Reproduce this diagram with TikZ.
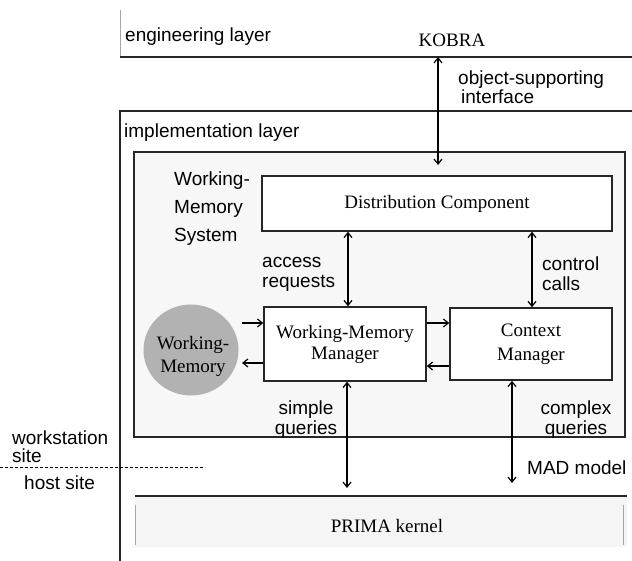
\documentclass[tikz,border=0pt]{standalone}
\usepackage{fontspec}
\setmainfont{Liberation Serif}
\setsansfont{Liberation Sans}
\usetikzlibrary{arrows.meta,shapes.geometric}

\begin{document}
\begin{tikzpicture}[x=1pt,y=-1pt,
  sf/.style={font=\sffamily\fontsize{19}{20}\selectfont, inner sep=0pt, align=left},
  rm/.style={font=\rmfamily\fontsize{19}{22}\selectfont, inner sep=0pt, align=center},
  box/.style={draw=black!85, line width=1.4pt, fill=white, rm},
  layerline/.style={draw=black!85, line width=1.5pt},
  sideline/.style={draw=black!35, line width=0.9pt},
  tip/.style={-{Straight Barb[length=5pt,width=8pt]}, line width=1.2pt},
  dbl/.style={{Straight Barb[length=5pt,width=8pt]}-{Straight Barb[length=5pt,width=8pt]}, line width=1.2pt},
]
\useasboundingbox (0,0) rectangle (632,561);

% engineering layer
\draw[sideline] (120,10) -- (120,57);
\draw[layerline] (120,57) -- (632,57);
\node[sf, anchor=west] (englab) at (125,37) {engineering layer};
\node[rm] (kobra) at (452,40) {KOBRA};
\coordinate (kobtop) at (438,57);
\coordinate (kobbot) at (438,165);
\node[sf, anchor=west, font=\sffamily\fontsize{19}{17}\selectfont] (osi) at (458,87) {object-supporting\\\hspace*{3pt}interface};

% implementation layer
\draw[layerline] (632,111) -- (120,111) -- (120,561);
\node[sf, anchor=west] (impllab) at (124,133) {implementation layer};

% working-memory system
\node[draw=black!85, line width=1.5pt, fill=black!3, minimum width=491pt, minimum height=285pt, inner sep=0pt] (wms) at (379.5,294.5) {};
\node[sf, anchor=west, font=\sffamily\fontsize{19}{28}\selectfont] (wmslab) at (174,209) {Working-\\Memory\\System};

\node[box, minimum width=350pt, minimum height=55pt] (dc) at (437,203.5) {Distribution Component};
\node[box, minimum width=162pt, minimum height=74pt, font=\rmfamily\fontsize{19}{21}\selectfont] (wmm) at (345,344) {Working-Memory\\Manager};
\node[box, minimum width=162pt, minimum height=72pt, font=\rmfamily\fontsize{19}{24}\selectfont] (cm) at (531,344) {Context\\Manager};

\node[ellipse, fill=black!30, minimum width=95pt, minimum height=91pt, inner sep=0pt] (wm) at (191,350) {};
\node[rm, font=\rmfamily\fontsize{19}{23}\selectfont] (wmlab) at (193,356) {Working-\\Memory};

% connectors
\draw[dbl] (kobtop) -- (kobbot);

\coordinate (xacc) at (348,0);
\coordinate (xctl) at (532,0);
\draw[dbl] (xacc |- dc.south) -- (xacc |- wmm.north);
\draw[dbl] (xctl |- dc.south) -- (xctl |- cm.north);

\coordinate (wmin) at (242,323);
\coordinate (wmout) at (242,363);
\draw[tip] (wmin) -- (wmin -| wmm.west);
\draw[tip] (wmout -| wmm.west) -- (wmout);

\coordinate (ytoc) at (0,323);
\coordinate (yfromc) at (0,366);
\draw[tip] (wmm.east |- ytoc) -- (cm.west |- ytoc);
\draw[tip] (cm.west |- yfromc) -- (wmm.east |- yfromc);

\coordinate (sqend) at (347,488);
\coordinate (cqend) at (512,483);
\draw[dbl] (sqend |- wmm.south) -- (sqend);
\draw[dbl] (cqend |- cm.south) -- (cqend);

% connector labels
\node[sf, anchor=west] (acclab) at (262,274) {access\\requests};
\node[sf, anchor=west] (ctllab) at (542,274) {control\\calls};
\node[sf, align=center] (sqlab) at (306,420) {simple\\queries};
\node[sf, align=center] (cqlab) at (576,420) {complex\\queries};
\node[sf, anchor=west] (madlab) at (527,468) {MAD model};

% site boundary
\draw[dashed, dash pattern=on 3pt off 2pt, line width=0.8pt] (0,467) coordinate (dashl) -- (205,467) coordinate (dashr);
\node[sf, anchor=west, font=\sffamily\fontsize{19}{18}\selectfont] (wslab) at (12,447) {workstation\\site};
\node[sf, anchor=west] (hostlab) at (24,483) {host site};

% PRIMA kernel
\node[fill=black!4, minimum width=492pt, minimum height=51pt, inner sep=0pt] (prima) at (381,521.5) {};
\draw[layerline] (prima.north west) -- (prima.north east);
\draw[sideline] (135,505) -- (135,545);
\draw[sideline] (623,505) -- (623,545);
\node[rm] (primalab) at (387,526) {PRIMA kernel};
\end{tikzpicture}
\end{document}
